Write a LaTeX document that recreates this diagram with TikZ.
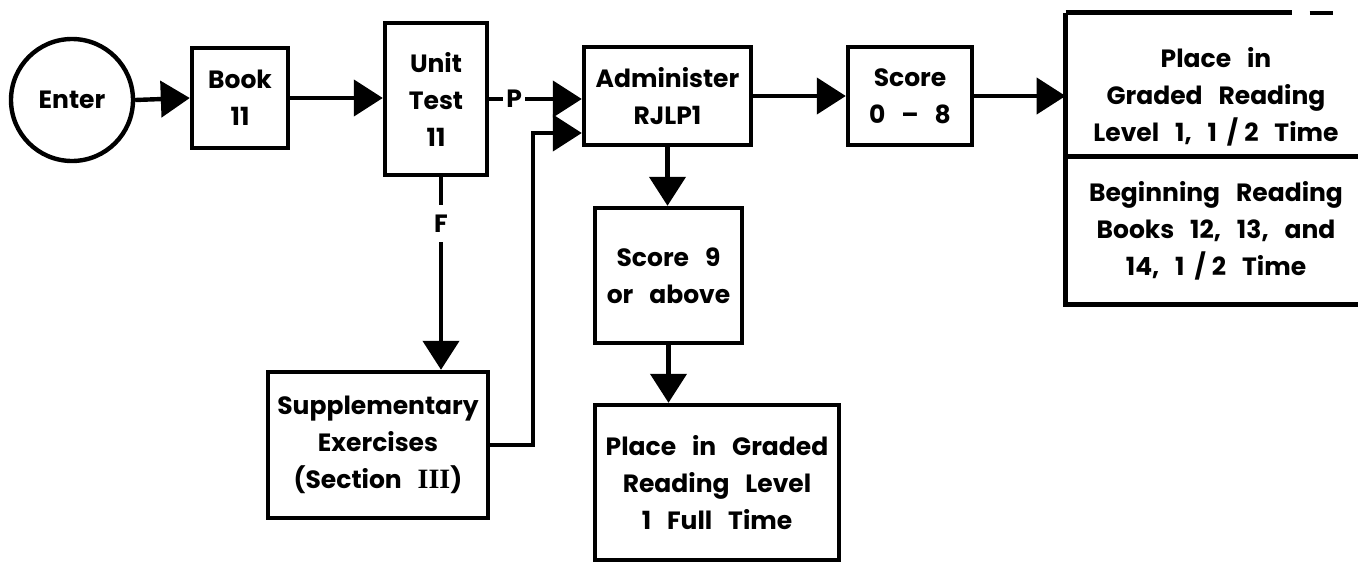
\documentclass[tikz,border=0pt]{standalone}
\usepackage{fontspec}
\setmainfont{Poppins}[WordSpace=3]
\newfontfamily\romfont{Liberation Serif}
\usetikzlibrary{arrows.meta}
\newcommand{\half}{1\hspace{5pt}/\hspace{3pt}2}
\begin{document}
\begin{tikzpicture}[x=0.5pt,y=-0.5pt,
  every node/.style={font=\fontsize{12.5}{18.5}\selectfont\bfseries, align=center, inner sep=0pt},
  box/.style={draw, line width=2.2pt, rectangle},
  edge/.style={line width=2.2pt},
  arr/.style={line width=2.2pt, -{Triangle[length=14.5pt,width=18pt]}},
  lbl/.style={fill=white, inner xsep=1.5pt, inner ysep=5pt}]
\useasboundingbox (0,0) rectangle (1358,562);

% main row
\node[draw, circle, line width=2.2pt, minimum size=61pt] (enter) at (72,100) {Enter};
\node[box, minimum width=48pt, minimum height=50pt] (book) at (240,98) {Book\\11};
\node[box, minimum width=51pt, minimum height=76pt] (unit) at (436,99) {Unit\\Test\\11};
\node[box, minimum width=83.5pt, minimum height=49pt] (admin) at (667.5,96) {Administer\\RJLP1};
\node[box, minimum width=62pt, minimum height=49pt] (s08) at (910,96) {Score\\0 -- 8};

% remedial branch
\node[box, minimum width=110pt, minimum height=73pt] (supp) at (378,445)
  {Supplementary\\Exercises\\(Section {\romfont\fontsize{14}{18.5}\selectfont\bfseries III})};

% high score branch
\node[box, minimum width=73.5pt, minimum height=67.5pt] (s9) at (668.5,275.5) {Score 9\\or above};
\node[box, minimum width=122pt, minimum height=77.5pt] (full) at (717,482.5)
  {Place in Graded\\Reading Level\\1 Full Time};

% two-part placement box at the right
\node[minimum width=150pt, minimum height=72pt] (rtop) at (1216,85) {};
\node[minimum width=150pt, minimum height=73.5pt] (rbot) at (1216,230.5)
  {Beginning Reading\\Books 12, 13, and\\14, \half{} Time};
\node (rtoptext) at (1216,97) {Place in\\Graded Reading\\Level 1, \half{} Time};
\draw[edge] (rtop.north west) -- (rbot.south west) -- (rbot.south east);
\draw[edge] (rbot.north west) -- (rbot.north east);
\draw[edge] (rtop.north west) -- ([xshift=113pt]rtop.north west);
\draw[line width=2pt] ([xshift=122pt]rtop.north west) -- ([xshift=133.5pt]rtop.north west);

% connectors
\draw[arr] (enter.east) -- (book.west);
\draw[arr] (book.east) -- (book.east -| unit.west);
\draw[arr] (unit.east) -- node[lbl, pos=0.27] {P} (unit.east -| admin.west);
\draw[arr] ([xshift=2.5pt]unit.south) -- node[lbl, pos=0.24] {F} ([xshift=2.5pt]unit.south |- supp.north);
\draw[arr] (supp.east) -| ([xshift=-24.5pt, yshift=-18.5pt]admin.west) -- ([yshift=-18.5pt]admin.west);
\draw[arr] (admin.east) -- (s08.west);
\draw[arr] (s08.east) -- (s08.east -| rtop.west);
\draw[arr] (admin.south) -- (admin.south |- s9.north);
\draw[arr] (s9.south) -- (s9.south |- full.north);
\end{tikzpicture}
\end{document}
